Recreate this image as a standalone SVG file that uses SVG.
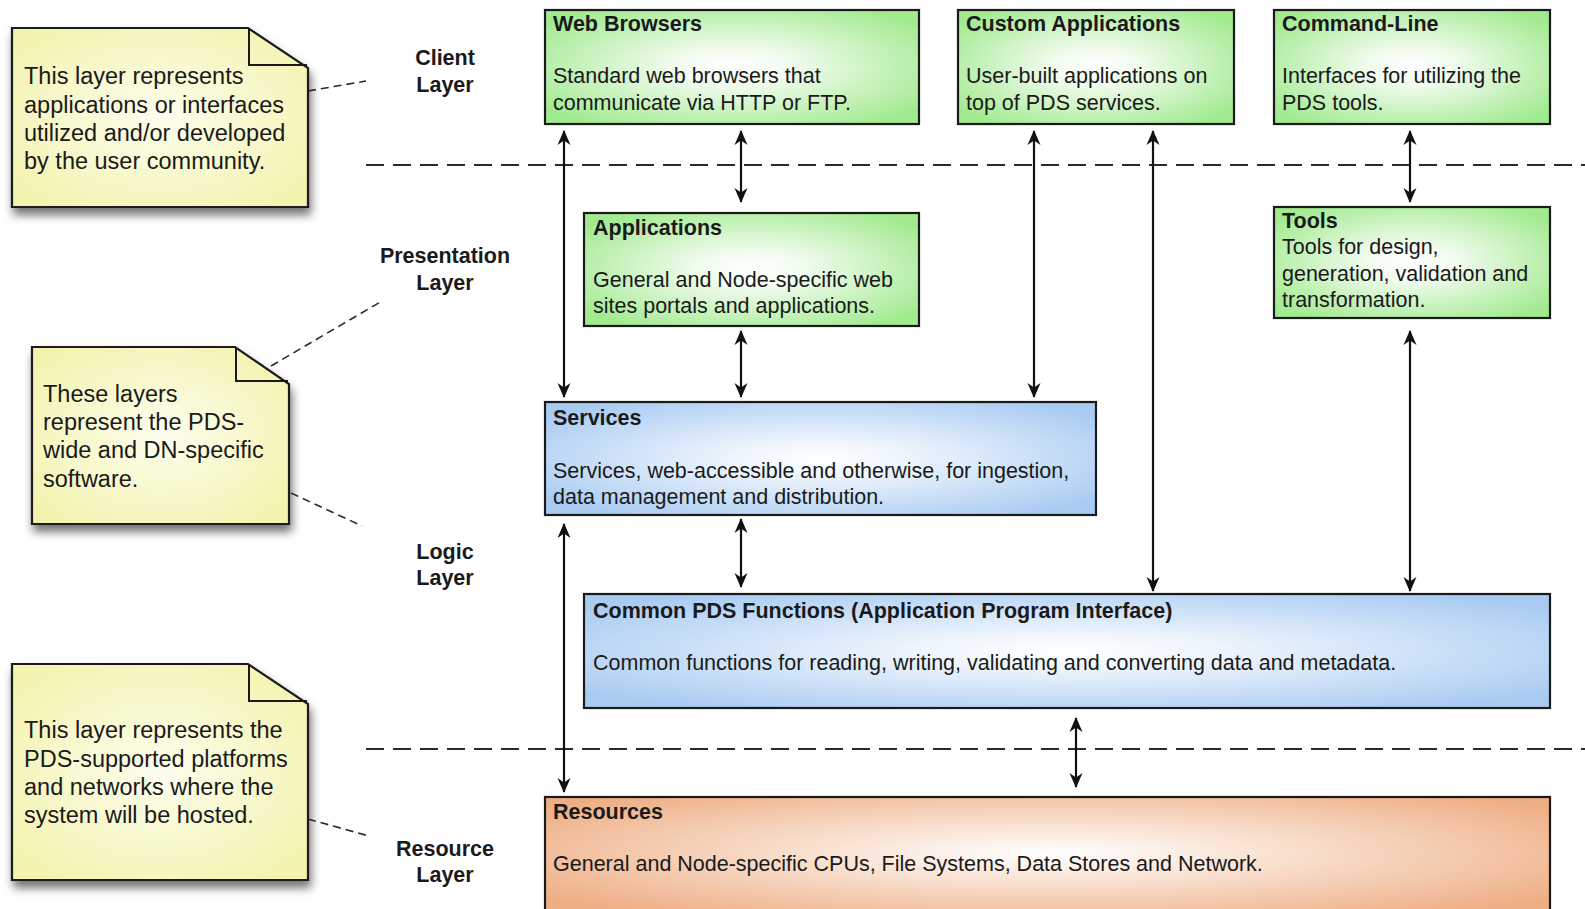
<svg xmlns="http://www.w3.org/2000/svg" width="1585" height="909" viewBox="0 0 1585 909">
<style>
text{font-family:"Liberation Sans",Arial,Helvetica,sans-serif;fill:#1a1a1a}
.t{font-size:21.5px;font-weight:bold}
.b{font-size:21.5px}
.n{font-size:23.5px}
.lbl{font-size:21.5px;font-weight:bold;text-anchor:middle}
.box{stroke:#1a1a1a;stroke-width:2.2}
.note{fill:url(#gY);stroke:#1a1a1a;stroke-width:2.2;filter:url(#sh)}
.fold{fill:none;stroke:#1a1a1a;stroke-width:2}
.sep{stroke:#2a2a2a;stroke-width:2.2;stroke-dasharray:18 9;fill:none}
.nl{stroke:#2a2a2a;stroke-width:1.6;stroke-dasharray:8 5;fill:none}
.ar{stroke:#111;stroke-width:2.2;fill:none;marker-start:url(#ah);marker-end:url(#ah)}
</style>
<defs>
<radialGradient id="gG" cx="0.5" cy="0.5" r="0.62"><stop offset="0" stop-color="#ffffff"/><stop offset="0.25" stop-color="#f2fcef"/><stop offset="1" stop-color="#a2ea90"/></radialGradient>
<radialGradient id="gB" cx="0.5" cy="0.5" r="0.62"><stop offset="0" stop-color="#ffffff"/><stop offset="0.25" stop-color="#eef5fd"/><stop offset="1" stop-color="#a9cbf2"/></radialGradient>
<radialGradient id="gO" cx="0.5" cy="0.45" r="0.62"><stop offset="0" stop-color="#ffffff"/><stop offset="0.2" stop-color="#fcefe6"/><stop offset="1" stop-color="#eeae84"/></radialGradient>
<radialGradient id="gY" cx="0.5" cy="0.5" r="0.65"><stop offset="0" stop-color="#fdfdee"/><stop offset="1" stop-color="#f3f3ad"/></radialGradient>
<filter id="sh" x="-10%" y="-10%" width="130%" height="135%"><feDropShadow dx="2" dy="7" stdDeviation="5" flood-color="#000" flood-opacity="0.55"/></filter>
<marker id="ah" viewBox="0 0 15 14" refX="14" refY="7" markerWidth="15" markerHeight="14" markerUnits="userSpaceOnUse" orient="auto-start-reverse"><path d="M0,0.5 L15,7 L0,13.5 L4.5,7 z" fill="#111"/></marker>
</defs>

<g id="separators">
<line class="sep" x1="366" y1="165" x2="1585" y2="165"/>
<line class="sep" x1="366" y1="749" x2="1585" y2="749"/>
</g>

<g id="layer-labels">
<text class="lbl" x="445" y="65">Client</text>
<text class="lbl" x="445" y="92">Layer</text>
<text class="lbl" x="445" y="263">Presentation</text>
<text class="lbl" x="445" y="290">Layer</text>
<text class="lbl" x="445" y="559">Logic</text>
<text class="lbl" x="445" y="585">Layer</text>
<text class="lbl" x="445" y="856">Resource</text>
<text class="lbl" x="445" y="882">Layer</text>
</g>

<g id="note-client">
<path class="note" d="M12,28 H248 L308,68 V207 H12 Z"/>
<path class="fold" d="M249,29 V65 H307"/>
<text class="n" x="24" y="84">This layer represents</text>
<text class="n" x="24" y="112.5">applications or interfaces</text>
<text class="n" x="24" y="141">utilized and/or developed</text>
<text class="n" x="24" y="169">by the user community.</text>
</g>

<g id="note-software">
<path class="note" d="M32,347 H235 L289,384 V524 H32 Z"/>
<path class="fold" d="M236,348 V381 H288"/>
<text class="n" x="43" y="401.5">These layers</text>
<text class="n" x="43" y="430">represent the PDS-</text>
<text class="n" x="43" y="458">wide and DN-specific</text>
<text class="n" x="43" y="486.5">software.</text>
</g>

<g id="note-resource">
<path class="note" d="M12,664 H248 L308,704 V880 H12 Z"/>
<path class="fold" d="M249,665 V701 H307"/>
<text class="n" x="24" y="738">This layer represents the</text>
<text class="n" x="24" y="766.5">PDS-supported platforms</text>
<text class="n" x="24" y="795">and networks where the</text>
<text class="n" x="24" y="823">system will be hosted.</text>
</g>

<g id="note-links">
<line class="nl" x1="308" y1="91" x2="366" y2="81"/>
<line class="nl" x1="271" y1="366" x2="382" y2="301"/>
<line class="nl" x1="291" y1="493" x2="362" y2="526"/>
<line class="nl" x1="308" y1="819" x2="369" y2="836"/>
</g>

<g id="web-browsers">
<rect class="box" x="545" y="10" width="374" height="114" fill="url(#gG)"/>
<text class="t" x="553" y="31">Web Browsers</text>
<text class="b" x="553" y="83">Standard web browsers that</text>
<text class="b" x="553" y="109.5">communicate via HTTP or FTP.</text>
</g>

<g id="custom-applications">
<rect class="box" x="958" y="10" width="276" height="114" fill="url(#gG)"/>
<text class="t" x="966" y="31">Custom Applications</text>
<text class="b" x="966" y="83">User-built applications on</text>
<text class="b" x="966" y="109.5">top of PDS services.</text>
</g>

<g id="command-line">
<rect class="box" x="1274" y="10" width="276" height="114" fill="url(#gG)"/>
<text class="t" x="1282" y="31">Command-Line</text>
<text class="b" x="1282" y="83">Interfaces for utilizing the</text>
<text class="b" x="1282" y="109.5">PDS tools.</text>
</g>

<g id="applications">
<rect class="box" x="584" y="213" width="335" height="113" fill="url(#gG)"/>
<text class="t" x="593" y="235">Applications</text>
<text class="b" x="593" y="286.5">General and Node-specific web</text>
<text class="b" x="593" y="312.5">sites portals and applications.</text>
</g>

<g id="tools">
<rect class="box" x="1274" y="207" width="276" height="111" fill="url(#gG)"/>
<text class="t" x="1282" y="228">Tools</text>
<text class="b" x="1282" y="254">Tools for design,</text>
<text class="b" x="1282" y="280.5">generation, validation and</text>
<text class="b" x="1282" y="306.5">transformation.</text>
</g>

<g id="services">
<rect class="box" x="545" y="402" width="551" height="113" fill="url(#gB)"/>
<text class="t" x="553" y="425">Services</text>
<text class="b" x="553" y="477.5">Services, web-accessible and otherwise, for ingestion,</text>
<text class="b" x="553" y="504">data management and distribution.</text>
</g>

<g id="common-pds-functions">
<rect class="box" x="584" y="594" width="966" height="114" fill="url(#gB)"/>
<text class="t" x="593" y="618">Common PDS Functions (Application Program Interface)</text>
<text class="b" x="593" y="669.5">Common functions for reading, writing, validating and converting data and metadata.</text>
</g>

<g id="resources">
<rect class="box" x="545" y="797" width="1005" height="125" fill="url(#gO)"/>
<text class="t" x="553" y="819">Resources</text>
<text class="b" x="553" y="870.5">General and Node-specific CPUs, File Systems, Data Stores and Network.</text>
</g>

<g id="connectors">
<line class="ar" x1="564" y1="131" x2="564" y2="397"/>
<line class="ar" x1="741" y1="131" x2="741" y2="202"/>
<line class="ar" x1="741" y1="331" x2="741" y2="397"/>
<line class="ar" x1="1034" y1="131" x2="1034" y2="397"/>
<line class="ar" x1="1153" y1="131" x2="1153" y2="591"/>
<line class="ar" x1="1410" y1="131" x2="1410" y2="202"/>
<line class="ar" x1="1410" y1="331" x2="1410" y2="591"/>
<line class="ar" x1="741" y1="519" x2="741" y2="587"/>
<line class="ar" x1="564" y1="524" x2="564" y2="792"/>
<line class="ar" x1="1076" y1="718" x2="1076" y2="787"/>
</g>
</svg>
